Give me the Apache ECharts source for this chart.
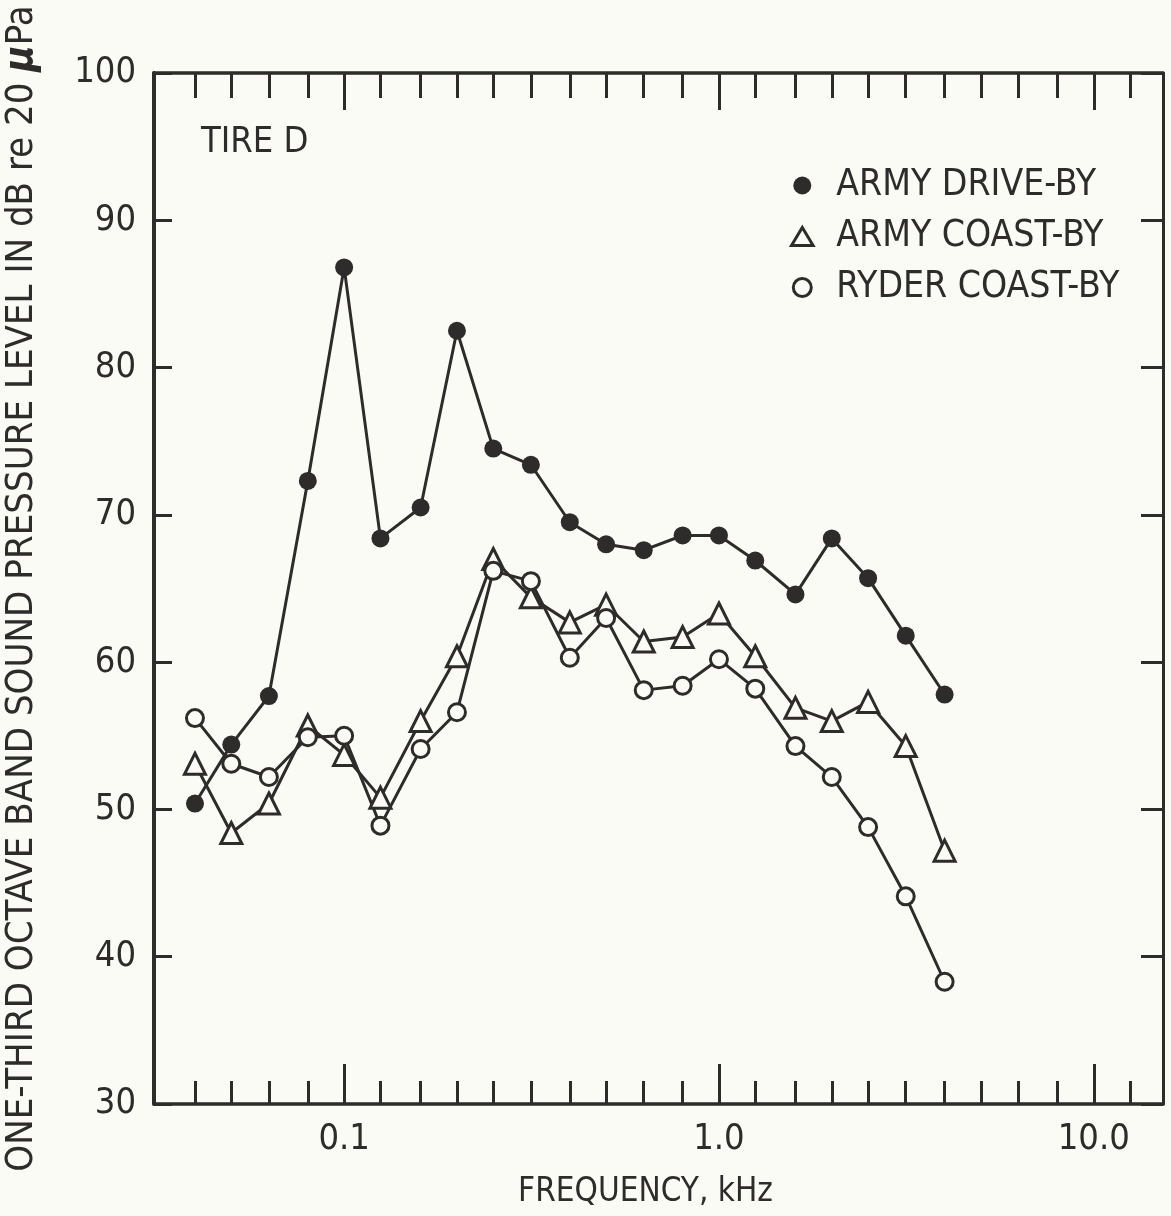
<!DOCTYPE html>
<html>
<head>
<meta charset="utf-8">
<script src="https://cdn.jsdelivr.net/npm/echarts@6/dist/echarts.min.js"></script>
<style>
  html, body { margin: 0; padding: 0; background: #fbfbf6; }
  #chart { width: 1171px; height: 1216px; }
</style>
</head>
<body>
<div id="chart"></div>
<script>
// one-third octave band centre frequencies, kHz
const freqs = [0.04, 0.05, 0.063, 0.08, 0.1, 0.125, 0.16, 0.2, 0.25, 0.315, 0.4,
  0.5, 0.63, 0.8, 1.0, 1.25, 1.6, 2.0, 2.5, 3.15, 4.0]
// sound pressure levels, dB
const armyDriveBy = [50.4, 54.4, 57.7, 72.3, 86.8, 68.4, 70.5, 82.5, 74.5, 73.4, 69.5,
  68.0, 67.6, 68.6, 68.6, 66.9, 64.6, 68.4, 65.7, 61.8, 57.8]
const armyCoastBy = [53.1, 48.4, 50.4, 55.7, 53.7, 50.8, 56.0, 60.4, 67.0, 64.4, 62.7,
  63.9, 61.4, 61.7, 63.3, 60.4, 56.9, 56.0, 57.3, 54.3, 47.2]
const ryderCoastBy = [56.2, 53.1, 52.2, 54.9, 55.0, 48.9, 54.1, 56.6, 66.2, 65.5, 60.3,
  63.0, 58.1, 58.4, 60.2, 58.2, 54.3, 52.2, 48.8, 44.1, 38.3]

// axis ticks
const minorTicks = [0.04, 0.05, 0.063, 0.08, 0.1, 0.125, 0.16, 0.2, 0.25, 0.315, 0.4,
  0.5, 0.63, 0.8, 1, 1.25, 1.6, 2, 2.5, 3.15, 4, 5, 6.3, 8, 10, 12.5]
const decadeTicks = [0.1, 1, 10]
const decadeLabels = ['0.1', '1.0', '10.0']

const seriesNames = ['ARMY DRIVE-BY', 'ARMY COAST-BY', 'RYDER COAST-BY']

const INK = '#2e2b2b'
const BG = '#fbfbf6'
const FONT = '"Liberation Sans Narrow", "DejaVu Sans Condensed", "Liberation Sans", sans-serif'
// triangle as a path so the legend keeps its aspect in a wide icon box
const TRIANGLE = 'path://M9,0 L18,15 L0,15 Z'

const toPairs = (ys) => freqs.map((f, i) => [f, ys[i]])

const xBase = {
  type: 'log',
  min: 0.0311,
  max: 15.3,
  gridIndex: 0,
  splitLine: { show: false },
  axisLine: { onZero: false, show: false },
  axisLabel: { show: false }
}

const myChart = echarts.init(document.getElementById('chart'))

const options = {
  backgroundColor: BG,
  animation: false,
  textStyle: { fontFamily: FONT, color: INK },
  title: {
    text: 'TIRE D',
    left: 196,
    top: 120,
    textStyle: { fontFamily: FONT, fontSize: 36, fontWeight: 'normal', color: INK }
  },
  legend: {
    orient: 'vertical',
    left: 785,
    top: 162,
    itemWidth: 58,
    itemHeight: 18,
    itemGap: 14,
    symbolKeepAspect: true,
    textStyle: { fontFamily: FONT, fontSize: 37, color: INK },
    data: [
      { name: seriesNames[0], icon: 'circle', itemStyle: { color: INK, borderWidth: 0 } },
      { name: seriesNames[1], icon: TRIANGLE, itemStyle: { color: BG, borderColor: INK, borderWidth: 3 } },
      { name: seriesNames[2], icon: 'circle', itemStyle: { color: BG, borderColor: INK, borderWidth: 3 } }
    ]
  },
  grid: { left: 154, right: 8, top: 73, bottom: 112, containLabel: false, outerBoundsMode: 'none' },
  xAxis: [
    // bottom, short ticks + labels
    Object.assign({}, xBase, {
      position: 'bottom',
      axisLine: { show: true, onZero: false, lineStyle: { color: INK, width: 3.5 } },
      axisTick: { show: true, inside: true, length: 23, customValues: minorTicks, lineStyle: { color: INK, width: 3 } },
      axisLabel: {
        show: true,
        customValues: decadeTicks,
        margin: 18,
        fontFamily: FONT,
        fontSize: 36,
        color: INK,
        formatter: (v) => decadeLabels[decadeTicks.findIndex((d) => Math.abs(d - v) < 1e-6)] || ''
      },
      name: 'FREQUENCY, kHz',
      nameLocation: 'middle',
      nameGap: 72,
      nameTextStyle: { fontFamily: FONT, fontSize: 33, color: INK, padding: [0, 26, 0, 0] }
    }),
    // bottom, long decade ticks
    Object.assign({}, xBase, {
      position: 'bottom',
      axisTick: { show: true, inside: true, length: 40, customValues: decadeTicks, lineStyle: { color: INK, width: 3 } }
    }),
    // top, short ticks
    Object.assign({}, xBase, {
      position: 'top',
      axisLine: { show: true, onZero: false, lineStyle: { color: INK, width: 3.5 } },
      axisTick: { show: true, inside: true, length: 25, customValues: minorTicks, lineStyle: { color: INK, width: 3 } }
    }),
    // top, long decade ticks
    Object.assign({}, xBase, {
      position: 'top',
      axisTick: { show: true, inside: true, length: 37, customValues: decadeTicks, lineStyle: { color: INK, width: 3 } }
    })
  ],
  yAxis: [
    {
      type: 'value',
      position: 'left',
      min: 30,
      max: 100,
      interval: 10,
      splitLine: { show: false },
      axisLine: { show: true, onZero: false, lineStyle: { color: INK, width: 4 } },
      axisTick: { show: true, inside: true, length: 18, lineStyle: { color: INK, width: 3 } },
      axisLabel: { margin: 18, fontFamily: FONT, fontSize: 36, color: INK },
      name: 'ONE-THIRD OCTAVE BAND SOUND PRESSURE LEVEL IN dB re 20 {mu|μ}Pa',
      nameLocation: 'middle',
      nameRotate: 90,
      nameGap: 112,
      nameTextStyle: {
        fontFamily: FONT,
        fontSize: 38,
        color: INK,
        rich: { mu: { fontFamily: FONT, fontSize: 40, fontWeight: 'bold', fontStyle: 'italic', color: INK } }
      }
    },
    {
      type: 'value',
      position: 'right',
      min: 30,
      max: 100,
      interval: 10,
      splitLine: { show: false },
      axisLine: { show: true, onZero: false, lineStyle: { color: INK, width: 3 } },
      axisTick: { show: true, inside: true, length: 22, lineStyle: { color: INK, width: 3 } },
      axisLabel: { show: false }
    }
  ],
  series: [
    {
      name: seriesNames[0],
      type: 'line',
      xAxisIndex: 0,
      yAxisIndex: 0,
      data: toPairs(armyDriveBy),
      symbol: 'circle',
      symbolSize: 18,
      lineStyle: { color: INK, width: 3 },
      itemStyle: { color: INK, borderWidth: 0 },
      z: 3
    },
    {
      name: seriesNames[1],
      type: 'line',
      xAxisIndex: 0,
      yAxisIndex: 0,
      data: toPairs(armyCoastBy),
      symbol: 'triangle',
      symbolSize: 21,
      lineStyle: { color: INK, width: 3 },
      itemStyle: { color: BG, borderColor: INK, borderWidth: 3 },
      z: 2
    },
    {
      name: seriesNames[2],
      type: 'line',
      xAxisIndex: 0,
      yAxisIndex: 0,
      data: toPairs(ryderCoastBy),
      symbol: 'circle',
      symbolSize: 17,
      lineStyle: { color: INK, width: 3 },
      itemStyle: { color: BG, borderColor: INK, borderWidth: 3 },
      z: 2
    }
  ]
}

myChart.setOption(options)
</script>
</body>
</html>
